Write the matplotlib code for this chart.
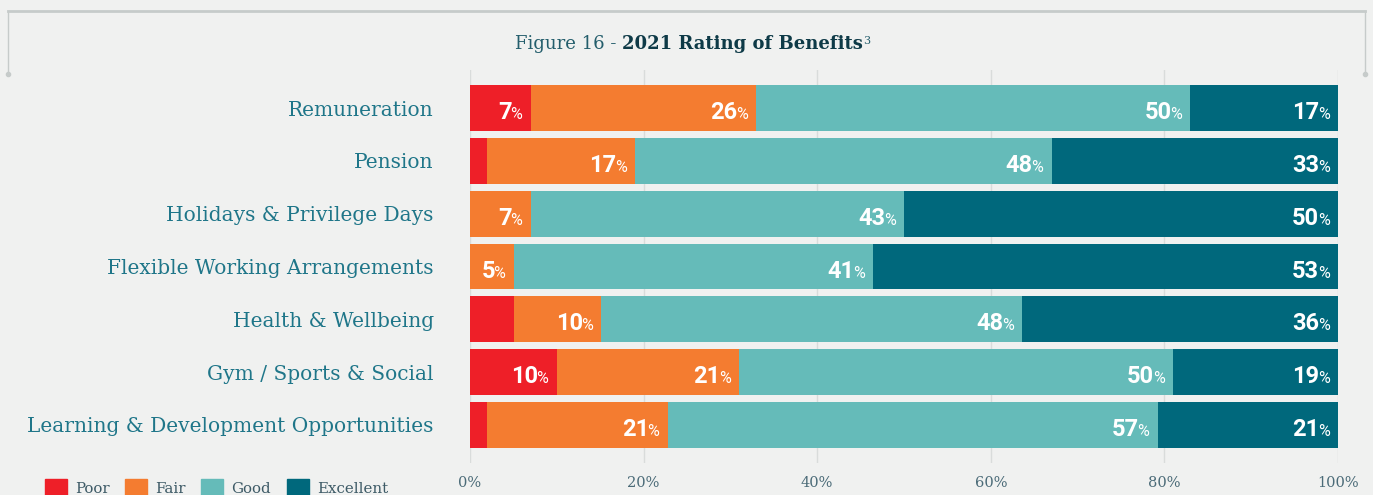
import numpy as np
import matplotlib
matplotlib.use('Agg')
import matplotlib.pyplot as plt
from matplotlib.patches import Patch
from matplotlib.lines import Line2D
from matplotlib.text import Annotation

# Data (percent; each row is normalised to 100 as in the original)
categories = ['Remuneration', 'Pension', 'Holidays & Privilege Days',
              'Flexible Working Arrangements', 'Health & Wellbeing',
              'Gym / Sports & Social', 'Learning & Development Opportunities']
series = ['Poor', 'Fair', 'Good', 'Excellent']
poor = [7, 2, 0, 0, 5, 10, 2]
fair = [26, 17, 7, 5, 10, 21, 21]
good = [50, 48, 43, 41, 48, 50, 57]
excellent = [17, 33, 50, 53, 36, 19, 21]
# segments the original leaves unlabelled (row, series)
hidden = {(1, 0), (4, 0), (6, 0)}

colors = ['#ee1f28', '#f47c30', '#65bbb9', '#00687c']
bg = '#f0f1f0'
label_col = '#1f7689'
tick_col = '#4b6b78'

vals = np.array([poor, fair, good, excellent], dtype=float)
shares = vals / vals.sum(axis=0) * 100

fig = plt.figure(figsize=(13.73, 4.95), dpi=100, facecolor=bg)
ax = fig.add_axes([0.3423, 0.0646, 0.6322, 0.794])
ax.set_facecolor(bg)

y = np.arange(len(categories))
left = np.zeros(len(categories))
for s, name in enumerate(series):
    ax.barh(y, shares[s], left=left, height=0.87, color=colors[s], zorder=3)
    ends = left + shares[s]
    for i in range(len(categories)):
        if vals[s, i] <= 0 or (i, s) in hidden:
            continue
        ax.annotate('%', xy=(ends[i], i), xytext=(-6, -8), textcoords='offset points',
                    ha='right', va='baseline', color='white', fontsize=11.5,
                    family='Roboto', zorder=4)
        ax.annotate('%d' % vals[s, i], xy=(ends[i], i), xytext=(-13.5, -8),
                    textcoords='offset points', ha='right', va='baseline',
                    color='white', fontsize=17, fontweight='bold',
                    family='Roboto', zorder=4)
    left = ends

ax.set_xlim(0, 100)
ax.set_ylim(6.72, -0.72)
ax.set_xticks(np.arange(0, 101, 20))
ax.set_xticklabels(['%d%%' % t for t in range(0, 101, 20)])
ax.grid(axis='x', color='#d9dcdb', lw=1, zorder=0)
ax.set_yticks(y)
ax.set_yticklabels(categories)
for sp in ax.spines.values():
    sp.set_visible(False)
ax.tick_params(axis='x', length=0, pad=9, labelsize=10.5, labelcolor=tick_col)
ax.tick_params(axis='y', length=0, pad=26, labelsize=14.5, labelcolor=label_col)
for t in ax.get_xticklabels():
    t.set_family('DejaVu Serif')
for t in ax.get_yticklabels():
    t.set_family('DejaVu Serif')

# title built from three pieces
t1 = fig.text(0.375, 0.893, 'Figure 16 - ', family='DejaVu Serif', fontsize=13,
              color='#245e6c', ha='left', va='bottom')
t2 = fig.add_artist(Annotation('2021 Rating of Benefits', xy=(1, 0), xycoords=t1,
                               ha='left', va='bottom', family='DejaVu Serif',
                               fontsize=13, fontweight='bold', color='#0e3a47'))
fig.add_artist(Annotation('3', xy=(1, 0.95), xycoords=t2, ha='left', va='top',
                          family='DejaVu Serif', fontsize=8, color='#245e6c'))

# frame around the title
fc = '#c6cbca'
x0, x1, ytop, ybot = 8 / 1373, 1365 / 1373, 1 - 11 / 495, 1 - 74 / 495
fig.add_artist(Line2D([x0, x1], [ytop, ytop], color=fc, lw=2))
fig.add_artist(Line2D([x0, x0], [ytop, ybot], color=fc, lw=1, marker='o',
                      markevery=[1], markersize=3))
fig.add_artist(Line2D([x1, x1], [ytop, ybot], color=fc, lw=1, marker='o',
                      markevery=[1], markersize=3))

handles = [Patch(color=c, label=n) for c, n in zip(colors, series)]
fig.legend(handles=handles, loc='lower left', bbox_to_anchor=(0.025, -0.025), ncol=4,
           frameon=False, handlelength=1.45, handleheight=1.45, handletextpad=0.55,
           columnspacing=1.05, borderaxespad=0.3,
           prop={'family': 'DejaVu Serif', 'size': 10.8}, labelcolor='#3d5a66')

fig.savefig('out.png', dpi=100, facecolor=bg)
